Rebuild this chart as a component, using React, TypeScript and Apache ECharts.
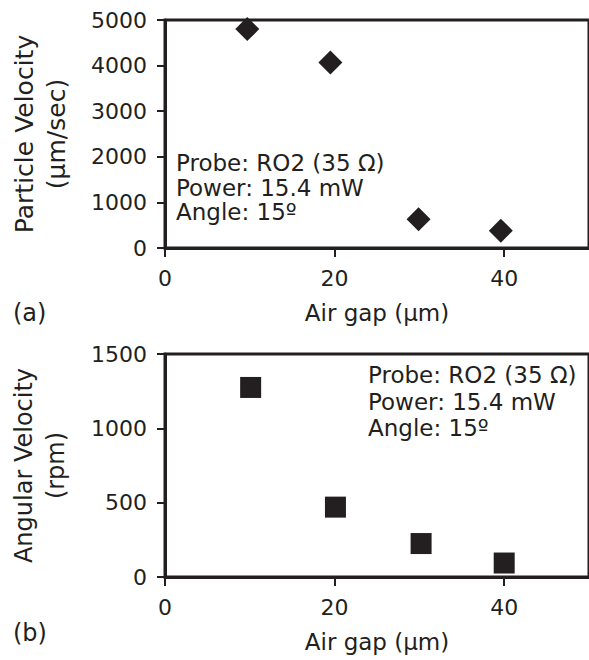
import React, { useEffect, useRef } from "react";
import * as echarts from "echarts";

const xTicksLabel = "Air gap (µm)";
const topYTitle = "Particle Velocity\n(µm/sec)";
const bottomYTitle = "Angular Velocity\n(rpm)";

const topAirGap = [9.7, 19.5, 29.9, 39.6];
const topParticleVelocity = [4800, 4070, 630, 380];

const bottomAirGap = [10.1, 20.1, 30.2, 40.0];
const bottomAngularVelocity = [1275, 470, 225, 94];

const annotationLines = ["Probe: RO2 (35 Ω)", "Power: 15.4 mW", "Angle: 15º"];

const INK = "#231f20";
const FONT = "DejaVu Sans";

export default function App() {
  const ref = useRef<HTMLDivElement>(null);

  useEffect(() => {
    if (!ref.current) return;
    const chart = echarts.init(ref.current, undefined, { renderer: "svg" });

    const xAxisBase = (gridIndex: number) => ({
      type: "value" as const,
      gridIndex,
      min: 0,
      max: 50,
      interval: 20,
      name: xTicksLabel,
      nameLocation: "middle" as const,
      nameGap: 53,
      nameTextStyle: { color: INK, fontFamily: FONT, fontSize: 23 },
      axisLine: { show: true, lineStyle: { color: INK, width: 3 } },
      axisTick: { show: true, length: 9, lineStyle: { color: INK, width: 2 } },
      axisLabel: {
        color: INK,
        fontFamily: FONT,
        fontSize: 22,
        margin: 19,
        showMaxLabel: false,
        formatter: (v: number) => String(v),
      },
      splitLine: { show: false },
    });

    const yAxisBase = (gridIndex: number, max: number, interval: number, name: string, fs: number) => ({
      type: "value" as const,
      gridIndex,
      min: 0,
      max,
      interval,
      name,
      nameLocation: "middle" as const,
      nameGap: 93,
      nameTextStyle: { color: INK, fontFamily: FONT, fontSize: fs, lineHeight: 32 },
      axisLine: { show: true, lineStyle: { color: INK, width: 3 } },
      axisTick: { show: true, length: 8, lineStyle: { color: INK, width: 2 } },
      axisLabel: {
        color: INK,
        fontFamily: FONT,
        fontSize: 22,
        margin: 18,
        formatter: (v: number) => String(v),
      },
      splitLine: { show: false },
    });

    chart.setOption({
      animation: false,
      backgroundColor: "#ffffff",
      grid: [
        { left: 165, top: 20, width: 430, height: 228, show: true, borderColor: INK, borderWidth: 3, backgroundColor: "transparent" },
        { left: 165, top: 354, width: 430, height: 223, show: true, borderColor: INK, borderWidth: 3, backgroundColor: "transparent" },
      ],
      xAxis: [xAxisBase(0), xAxisBase(1)],
      yAxis: [
        yAxisBase(0, 5000, 1000, topYTitle, 25),
        yAxisBase(1, 1500, 500, bottomYTitle, 24),
      ],
      series: [
        {
          type: "scatter",
          xAxisIndex: 0,
          yAxisIndex: 0,
          symbol: "diamond",
          symbolSize: 24,
          itemStyle: { color: INK, opacity: 1 },
          data: topAirGap.map((x, i) => [x, topParticleVelocity[i]]),
        },
        {
          type: "scatter",
          xAxisIndex: 1,
          yAxisIndex: 1,
          symbol: "rect",
          symbolSize: 21,
          itemStyle: { color: INK, opacity: 1 },
          data: bottomAirGap.map((x, i) => [x, bottomAngularVelocity[i]]),
        },
      ],
      graphic: [
        {
          type: "text",
          x: 176,
          y: 151,
          style: {
            text: annotationLines.join("\n"),
            fill: INK,
            fontFamily: FONT,
            fontSize: 23,
            lineHeight: 24.5,
            verticalAlign: "top",
            align: "left",
          },
        },
        {
          type: "text",
          x: 368,
          y: 361.5,
          style: {
            text: annotationLines.join("\n"),
            fill: INK,
            fontFamily: FONT,
            fontSize: 23,
            lineHeight: 26.7,
            verticalAlign: "top",
            align: "left",
          },
        },
        {
          type: "text",
          x: 13,
          y: 313,
          style: { text: "(a)", fill: INK, fontFamily: FONT, fontSize: 24, verticalAlign: "middle", align: "left" },
        },
        {
          type: "text",
          x: 13,
          y: 633,
          style: { text: "(b)", fill: INK, fontFamily: FONT, fontSize: 24, verticalAlign: "middle", align: "left" },
        },
      ],
    });

    return () => chart.dispose();
  }, []);

  return (
    <div
      ref={ref}
      style={{ position: "absolute", left: 0, top: 0, width: 589, height: 660 }}
    />
  );
}
